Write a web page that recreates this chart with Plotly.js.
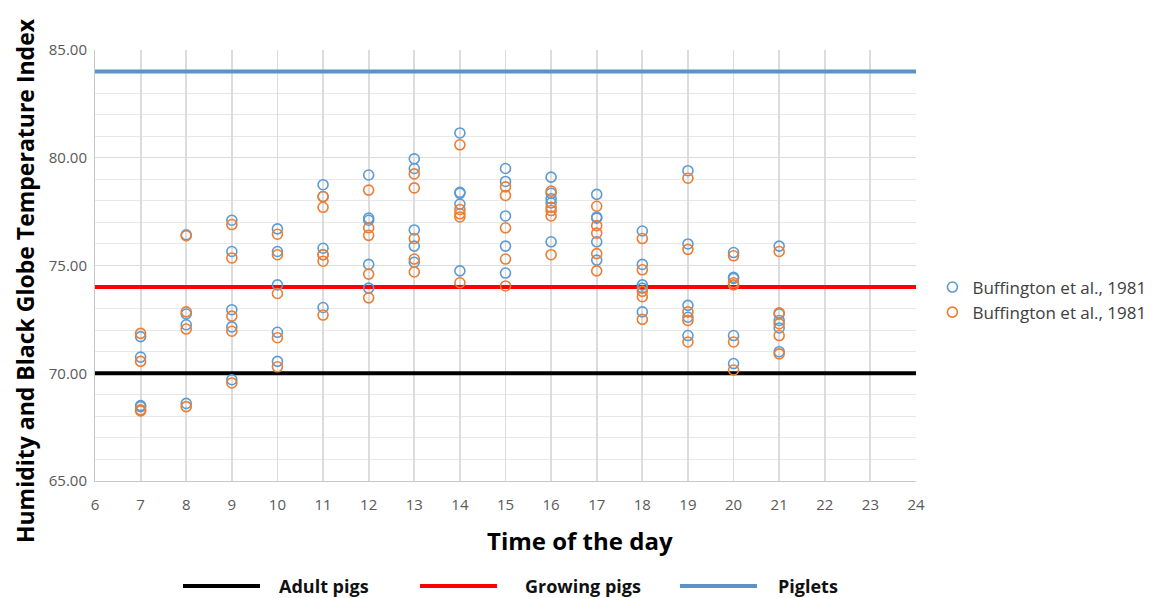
<!DOCTYPE html>
<html>
<head>
<meta charset="utf-8">
<script src="https://cdn.plot.ly/plotly-3.0.1.min.js"></script>
<style>html,body{margin:0;padding:0;background:#fff;}#chart{width:1159px;height:598px;}</style>
</head>
<body>
<div id="chart"></div>
<script>
// Hours of the day
const hours = [7, 8, 9, 10, 11, 12, 13, 14, 15, 16, 17, 18, 19, 20, 21];

// Series 1 (blue) values per hour
const blueValues = [
  [71.7, 70.75, 68.5, 68.45],
  [76.42, 72.75, 72.25, 68.6],
  [77.1, 75.65, 72.95, 72.15, 69.7],
  [76.7, 75.65, 74.1, 71.9, 70.55],
  [78.75, 78.2, 75.8, 75.5, 73.05],
  [79.2, 77.2, 77.1, 75.05, 73.95],
  [79.95, 79.5, 76.65, 75.9, 75.15],
  [81.15, 78.4, 78.35, 77.85, 74.75],
  [79.5, 78.9, 77.3, 75.9, 74.65],
  [79.1, 78.35, 78.1, 77.9, 76.1],
  [78.3, 77.25, 77.2, 76.1, 75.25],
  [76.6, 75.05, 74.1, 73.95, 72.85],
  [79.4, 76.0, 73.15, 72.6, 71.75],
  [75.6, 74.45, 74.4, 71.75, 70.45],
  [75.9, 72.75, 72.45, 72.1, 71.0]
];

// Series 2 (orange) values per hour
const orangeValues = [
  [71.85, 70.55, 68.3, 68.25],
  [76.38, 72.85, 72.05, 68.45],
  [76.9, 75.35, 72.65, 71.95, 69.55],
  [76.45, 75.5, 73.7, 71.65, 70.3],
  [78.2, 77.7, 75.5, 75.2, 72.7],
  [78.5, 76.75, 76.4, 74.6, 73.5],
  [79.25, 78.6, 76.25, 75.3, 74.7],
  [80.6, 77.6, 77.4, 77.25, 74.2],
  [78.65, 78.25, 76.75, 75.3, 74.05],
  [78.45, 77.7, 77.55, 77.3, 75.5],
  [77.75, 76.85, 76.5, 75.55, 74.75],
  [76.25, 74.8, 73.8, 73.55, 72.5],
  [79.05, 75.75, 72.85, 72.45, 71.45],
  [75.45, 74.2, 74.1, 71.45, 70.15],
  [75.65, 72.8, 72.3, 71.75, 70.9]
];

const seriesNames = ["Buffington et al., 1981", "Buffington et al., 1981"];

// Threshold lines
const thresholdNames = ["Adult pigs", "Growing pigs", "Piglets"];
const thresholdValues = [70, 74, 84];
const xRange = [6, 24];
const yTickValues = [65, 70, 75, 80, 85];
const xTickValues = [6,7,8,9,10,11,12,13,14,15,16,17,18,19,20,21,22,23,24];

const thresholdColors = ["#000000", "#ff0000", "#5b93c8"];

function flatten(vals) {
  const xs = [], ys = [];
  hours.forEach((h, i) => vals[i].forEach(v => { xs.push(h); ys.push(v); }));
  return {xs, ys};
}

const traces = [];
thresholdValues.forEach((v, i) => {
  traces.push({
    x: xRange, y: [v, v], type: "scatter", mode: "lines",
    line: {color: thresholdColors[i], width: 4},
    name: thresholdNames[i], showlegend: false, hoverinfo: "skip"
  });
});
const b = flatten(blueValues), o = flatten(orangeValues);
traces.push({
  x: b.xs, y: b.ys, type: "scatter", mode: "markers", name: seriesNames[0],
  marker: {symbol: "circle-open", size: 10, color: "#5b9bd5", line: {width: 1.6}}
});
traces.push({
  x: o.xs, y: o.ys, type: "scatter", mode: "markers", name: seriesNames[1],
  marker: {symbol: "circle-open", size: 10, color: "#ed7d31", line: {width: 1.6}}
});

// bottom legend geometry (paper coords)
const legendSwatches = [[0.1072, 0.201, 0.2217], [0.3959, 0.4896, 0.5213], [0.7125, 0.8063, 0.8295]];
const shapes = [], annotations = [];
thresholdNames.forEach((n, i) => {
  const s = legendSwatches[i];
  shapes.push({type: "line", xref: "paper", yref: "paper", x0: s[0], x1: s[1], y0: -0.2436, y1: -0.2436,
    line: {color: thresholdColors[i], width: 4}});
  annotations.push({xref: "paper", yref: "paper", x: s[2], y: -0.2436, xanchor: "left", yanchor: "middle",
    text: "<b>" + n + "</b>", showarrow: false, font: {family: "Open Sans", size: 18, color: "#111"}});
});
annotations.push({xref: "paper", yref: "paper", x: 0.591, y: -0.137, xanchor: "center", yanchor: "middle",
  text: "<b>Time of the day</b>", showarrow: false, font: {family: "Open Sans", size: 24, color: "#000"}});
annotations.push({xref: "paper", yref: "paper", x: -0.0853, y: 0.466, xanchor: "center", yanchor: "middle",
  textangle: -90, text: "<b>Humidity and Black Globe Temperature Index</b>", showarrow: false,
  font: {family: "Open Sans", size: 23, color: "#000"}});

const layout = {
  width: 1159, height: 598,
  margin: {l: 95, r: 243, t: 50, b: 117, autoexpand: false},
  paper_bgcolor: "#fff", plot_bgcolor: "#fff",
  font: {family: "Open Sans", color: "#595959"},
  showlegend: true,
  legend: {x: 1.02, y: 0.42, xanchor: "left", yanchor: "middle",
    font: {family: "Open Sans", size: 17, color: "#404040"}, bgcolor: "rgba(0,0,0,0)"},
  xaxis: {
    range: xRange, tickvals: xTickValues, ticks: "", ticklabelstandoff: 10,
    showgrid: true, gridcolor: "#dcdcdc", gridwidth: 1.8,
    showline: true, linecolor: "#c8c8c8", linewidth: 1, zeroline: false,
    tickfont: {family: "Open Sans", size: 15, color: "#595959"}
  },
  yaxis: {
    range: [65, 85], tickvals: yTickValues, tickformat: ".2f", ticks: "", ticklabelstandoff: 4,
    showgrid: true, gridcolor: "#dcdcdc", gridwidth: 1,
    minor: {dtick: 1, showgrid: true, gridcolor: "#e8e8e8", gridwidth: 1},
    showline: true, linecolor: "#c8c8c8", linewidth: 1, zeroline: false,
    tickfont: {family: "Open Sans", size: 15, color: "#595959"}
  },
  shapes: shapes,
  annotations: annotations
};

Plotly.newPlot("chart", traces, layout, {displayModeBar: false, staticPlot: true});
</script>
</body>
</html>
